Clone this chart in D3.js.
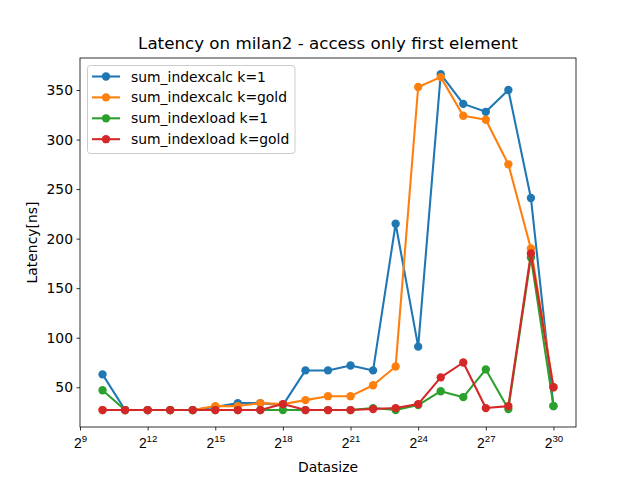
<!DOCTYPE html>
<html><head><meta charset="utf-8">
<script src="https://cdn.jsdelivr.net/npm/d3@7"></script>
<style>body{margin:0;background:#fff}svg{font-family:"DejaVu Sans",sans-serif}</style>
</head><body>
<svg id="c" width="640" height="480"></svg>
<script>
const exponents = [10,11,12,13,14,15,16,17,18,19,20,21,22,23,24,25,26,27,28,29,30];
const calcK1   = [63,27,27,27,27,30,34,34,32,67,67,72,67,215,91,366,336,328,350,241,31];
const calcGold = [27,27,27,27,27,31,31,34,33,37,41,41,52,71,353,363,324,320,275,190,50];
const loadK1   = [47,27,27,27,27,27,27,27,27,27,27,27,29,27,32,46,40,68,28,181,31];
const loadGold = [27,27,27,27,27,27,27,27,33,27,27,27,28,29,33,60,75,29,31,185,50];
const seriesNames = ["sum_indexcalc k=1","sum_indexcalc k=gold","sum_indexload k=1","sum_indexload k=gold"];
const colors = ["#1f77b4","#ff7f0e","#2ca02c","#d62728"];
const xTicks = [9,12,15,18,21,24,27,30];
const yTicks = [50,100,150,200,250,300,350];
const allSeries = [calcK1, calcGold, loadK1, loadGold];

const svg = d3.select("#c");
const L=80, R=576, T=58, B=427;
const x = d3.scaleLinear().domain([9,31]).range([L,R]);
const y = d3.scaleLinear().domain([9.9,382.3]).range([B,T]);

// title
svg.append("text").attr("x",(L+R)/2).attr("y",49).attr("text-anchor","middle")
  .attr("font-size","16.7px").text("Latency on milan2 - access only first element");

// axes
const xAxis = svg.append("g").attr("transform",`translate(0,${B})`)
  .call(d3.axisBottom(x).tickValues(xTicks).tickSize(3.5).tickPadding(3.5).tickFormat(()=>""));
xAxis.select(".domain").remove();
xAxis.selectAll("line").attr("stroke","#000").attr("stroke-width",0.8);
xAxis.selectAll(".tick").each(function(d){
  const t = d3.select(this).append("text").attr("fill","#000").attr("y",21)
    .attr("text-anchor","middle").attr("font-size","13.9px");
  t.append("tspan").text("2");
  t.append("tspan").attr("dy","-6").attr("font-size","9.7px").text(d);
});
const yAxis = svg.append("g").attr("transform",`translate(${L},0)`)
  .call(d3.axisLeft(y).tickValues(yTicks).tickSize(3.5).tickPadding(3.5));
yAxis.select(".domain").remove();
yAxis.selectAll("line").attr("stroke","#000").attr("stroke-width",0.8);
yAxis.selectAll("text").attr("font-size","13.9px").attr("font-family","DejaVu Sans").attr("fill","#000");

svg.append("rect").attr("x",L).attr("y",T).attr("width",R-L).attr("height",B-T)
  .attr("fill","none").attr("stroke","#000").attr("stroke-width",0.8);

svg.append("text").attr("x",(L+R)/2).attr("y",472).attr("text-anchor","middle")
  .attr("font-size","13.9px").text("Datasize");
svg.append("text").attr("transform",`translate(37,${(T+B)/2}) rotate(-90)`).attr("text-anchor","middle")
  .attr("font-size","13.9px").text("Latency[ns]");

const plot = svg.append("g");
const line = d3.line().x((d,i)=>x(exponents[i])).y(d=>y(d));
allSeries.forEach((s,k)=>{
  plot.append("path").datum(s).attr("d",line).attr("fill","none")
    .attr("stroke",colors[k]).attr("stroke-width",2.08).attr("stroke-linejoin","round");
  plot.selectAll(null).data(s).enter().append("circle")
    .attr("cx",(d,i)=>x(exponents[i])).attr("cy",d=>y(d)).attr("r",4.17).attr("fill",colors[k]);
});

// legend
const lg = svg.append("g");
lg.append("rect").attr("x",87.5).attr("y",65.5).attr("width",207.5).attr("height",88)
  .attr("rx",3).attr("fill","#fff").attr("fill-opacity",0.8).attr("stroke","#ccc").attr("stroke-width",1);
seriesNames.forEach((n,k)=>{
  const yy = 76.5 + k*20.9;
  lg.append("line").attr("x1",92).attr("x2",120).attr("y1",yy).attr("y2",yy)
    .attr("stroke",colors[k]).attr("stroke-width",2.08);
  lg.append("circle").attr("cx",106).attr("cy",yy).attr("r",4.17).attr("fill",colors[k]);
  lg.append("text").attr("x",131).attr("y",yy+5).attr("font-size","13.9px").text(n);
});
</script>
</body></html>
